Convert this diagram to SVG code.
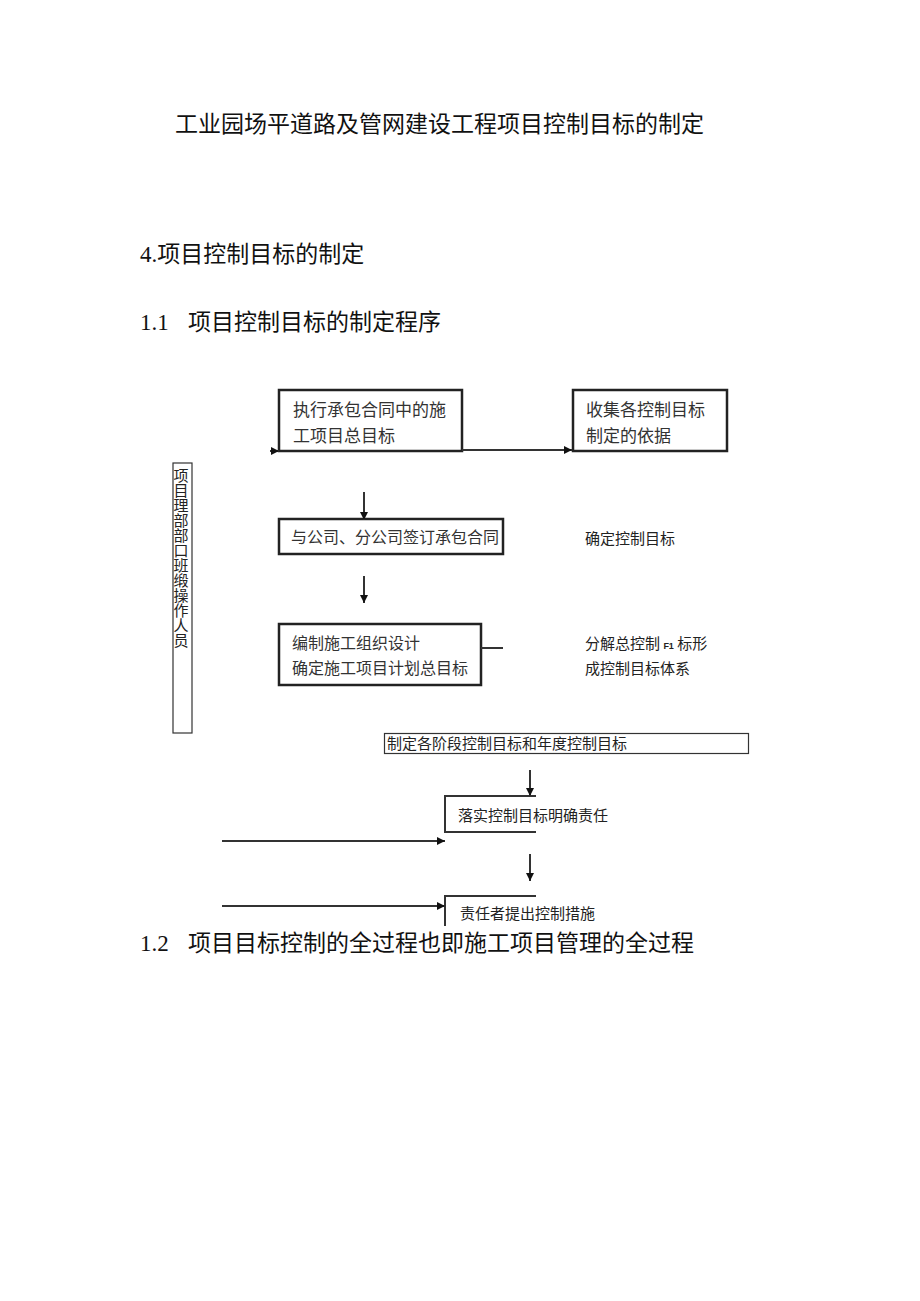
<svg xmlns="http://www.w3.org/2000/svg" width="920" height="1301" viewBox="0 0 920 1301">
<defs>
<marker id="ah" viewBox="0 0 10 10" refX="10" refY="5" markerWidth="9" markerHeight="8" orient="auto" markerUnits="userSpaceOnUse">
<path d="M0,0 L10,5 L0,10 z" fill="#111"/>
</marker>
<style>
.h{font-family:"Liberation Serif","Noto Sans CJK SC",serif;font-size:23px;fill:#111}
.b{font-family:"Noto Sans CJK SC",sans-serif;fill:#333}
.t{font-family:"Noto Sans CJK SC",sans-serif;font-size:15px;fill:#222}
.v{font-family:"Noto Sans CJK SC",sans-serif;font-size:15px;fill:#222;writing-mode:vertical-rl}
.box{fill:none;stroke:#222;stroke-width:2.5}
.thin{fill:none;stroke:#333;stroke-width:1.2}
.ln{fill:none;stroke:#333;stroke-width:2}
</style>
</defs>
<rect width="920" height="1301" fill="#fff"/>

<g id="headings">
<text class="h" x="175" y="132">工业园场平道路及管网建设工程项目控制目标的制定</text>
<text class="h" x="140" y="262">4.项目控制目标的制定</text>
<text class="h" x="140" y="330">1.1<tspan x="188">项目控制目标的制定程序</tspan></text>
<text class="h" x="140" y="951">1.2<tspan x="188">项目目标控制的全过程也即施工项目管理的全过程</tspan></text>
</g>

<g id="n1">
<rect class="box" x="279" y="390" width="183" height="61"/>
<text class="b" font-size="17" x="293" y="416">执行承包合同中的施</text>
<text class="b" font-size="17" x="293" y="442">工项目总目标</text>
</g>
<g id="n2">
<rect class="box" x="573" y="390" width="154" height="61"/>
<text class="b" font-size="17" x="586" y="416">收集各控制目标</text>
<text class="b" font-size="17" x="586" y="442">制定的依据</text>
</g>
<g id="side">
<rect class="thin" x="173" y="463" width="19" height="270"/>
<text class="v" x="181" y="468">项目理部部口班缎操作人员</text>
</g>
<g id="n3">
<rect class="box" x="279" y="519" width="224" height="35"/>
<text class="b" font-size="16" x="291" y="543">与公司、分公司签订承包合同</text>
</g>
<g id="l3">
<text class="t" x="585" y="544">确定控制目标</text>
</g>
<g id="n4">
<rect class="box" x="279" y="624" width="202" height="61"/>
<text class="b" font-size="16" x="292" y="649">编制施工组织设计</text>
<text class="b" font-size="16" x="292" y="674">确定施工项目计划总目标</text>
</g>
<g id="l4">
<text class="t" x="585" y="649">分解总控制 <tspan font-family="Liberation Sans,sans-serif" font-weight="bold" font-size="9">F1</tspan> 标形</text>
<text class="t" x="585" y="674">成控制目标体系</text>
</g>
<g id="n5">
<rect class="thin" x="384.5" y="733.5" width="364" height="20"/>
<text class="t" x="387" y="749">制定各阶段控制目标和年度控制目标</text>
</g>
<g id="n6">
<path class="ln" d="M536,796 H445 V832 H536"/>
<text class="t" x="458" y="821">落实控制目标明确责任</text>
</g>
<g id="n7">
<path class="ln" d="M536,896 H445 V926"/>
<text class="t" x="460" y="919">责任者提出控制措施</text>
</g>

<g id="connectors">
<path class="ln" d="M270,451 H279" marker-end="url(#ah)"/>
<path class="ln" d="M462,450 H572" marker-end="url(#ah)"/>
<path class="ln" d="M364,492 V520" marker-end="url(#ah)"/>
<path class="ln" d="M364,576 V603" marker-end="url(#ah)"/>
<path class="ln" d="M481,648 H503"/>
<path class="ln" d="M530,770 V796" marker-end="url(#ah)"/>
<path class="ln" d="M530,854 V881" marker-end="url(#ah)"/>
<path class="ln" d="M222,841 H445" marker-end="url(#ah)"/>
<path class="ln" d="M222,906 H445" marker-end="url(#ah)"/>
</g>
</svg>
